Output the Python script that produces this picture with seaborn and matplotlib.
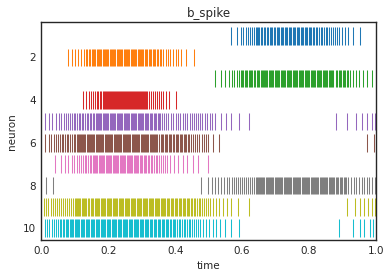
import matplotlib
matplotlib.use("Agg")
import matplotlib.pyplot as plt
import seaborn as sns

neuron_1 = [0.568, 0.586, 0.597, 0.604, 0.611, 0.618, 0.625, 0.630, 0.635, 0.640, 0.644, 0.648, 0.651, 0.655,
            0.659, 0.664, 0.668, 0.673, 0.677, 0.682, 0.686, 0.690, 0.695, 0.699, 0.703, 0.707, 0.711, 0.715,
            0.719, 0.723, 0.727, 0.731, 0.735, 0.739, 0.743, 0.747, 0.751, 0.755, 0.759, 0.763, 0.767, 0.771,
            0.775, 0.779, 0.783, 0.787, 0.791, 0.795, 0.799, 0.803, 0.807, 0.812, 0.816, 0.821, 0.825, 0.830,
            0.835, 0.840, 0.845, 0.850, 0.855, 0.860, 0.866, 0.871, 0.877, 0.883, 0.890, 0.899, 0.907, 0.917,
            0.932, 0.951]
neuron_2 = [0.0785, 0.092, 0.102, 0.111, 0.119, 0.128, 0.133, 0.138, 0.142, 0.146, 0.150, 0.154, 0.158, 0.161,
            0.165, 0.169, 0.172, 0.176, 0.179, 0.183, 0.186, 0.190, 0.193, 0.197, 0.200, 0.204, 0.207, 0.211,
            0.214, 0.218, 0.221, 0.225, 0.228, 0.232, 0.235, 0.239, 0.242, 0.246, 0.249, 0.253, 0.256, 0.260,
            0.263, 0.267, 0.270, 0.274, 0.277, 0.281, 0.284, 0.288, 0.291, 0.295, 0.298, 0.302, 0.305, 0.309,
            0.313, 0.317, 0.321, 0.325, 0.329, 0.333, 0.337, 0.341, 0.345, 0.349, 0.354, 0.359, 0.365, 0.372,
            0.378, 0.385, 0.394, 0.402, 0.409, 0.416, 0.431, 0.455]
neuron_3 = [0.520, 0.538, 0.550, 0.562, 0.570, 0.577, 0.586, 0.591, 0.596, 0.600, 0.604, 0.608, 0.612, 0.616,
            0.620, 0.624, 0.628, 0.631, 0.635, 0.639, 0.643, 0.647, 0.651, 0.655, 0.659,
            0.663, 0.666, 0.669, 0.672, 0.675, 0.681, 0.684, 0.687, 0.690, 0.693,
            0.699, 0.702, 0.705, 0.708, 0.711, 0.717, 0.720, 0.723, 0.726, 0.729,
            0.735, 0.738, 0.741, 0.744, 0.747, 0.753, 0.756, 0.759, 0.762, 0.765,
            0.771, 0.774, 0.777, 0.780, 0.783, 0.789, 0.792, 0.795, 0.798, 0.801,
            0.807, 0.810, 0.813, 0.816, 0.819, 0.825, 0.828, 0.831, 0.834, 0.837,
            0.843, 0.846, 0.849, 0.852, 0.855, 0.861, 0.864, 0.867, 0.870, 0.873,
            0.879, 0.884, 0.888, 0.892, 0.896, 0.900, 0.904, 0.908, 0.913, 0.917, 0.923, 0.932,
            0.941, 0.950, 0.960, 0.973, 0.987]
neuron_4 = [0.126, 0.134, 0.143, 0.149, 0.155, 0.160, 0.165, 0.169, 0.174, 0.179, 0.184, 0.188, 0.191, 0.194,
            0.197, 0.200, 0.203, 0.206, 0.209, 0.212, 0.215, 0.218, 0.221, 0.224, 0.227, 0.230, 0.233, 0.236,
            0.239, 0.242, 0.245, 0.248, 0.251, 0.254, 0.257, 0.260, 0.263, 0.266, 0.269, 0.272, 0.275, 0.278,
            0.281, 0.284, 0.287, 0.290, 0.293, 0.296, 0.299, 0.302, 0.305, 0.308, 0.311, 0.314, 0.317, 0.322,
            0.328, 0.335, 0.341, 0.347, 0.353, 0.359, 0.365, 0.372, 0.383, 0.401]
neuron_5 = [0.011, 0.023, 0.033, 0.043, 0.052, 0.060, 0.067, 0.073, 0.080, 0.086, 0.091, 0.097, 0.101, 0.107,
            0.113, 0.117, 0.121, 0.126, 0.131, 0.136, 0.140, 0.145, 0.149, 0.154, 0.158, 0.162, 0.165, 0.169,
            0.172, 0.176, 0.179, 0.183, 0.186, 0.190, 0.193, 0.197, 0.200, 0.204, 0.207, 0.211, 0.214, 0.218,
            0.221, 0.225, 0.228, 0.232, 0.235, 0.239, 0.242, 0.246, 0.249, 0.253, 0.256, 0.260, 0.263, 0.267,
            0.270, 0.274, 0.277, 0.281, 0.284, 0.288, 0.291, 0.295, 0.298, 0.302, 0.305, 0.309, 0.312, 0.316,
            0.320, 0.324, 0.328, 0.332, 0.336, 0.340, 0.344, 0.348, 0.352, 0.356, 0.360, 0.366, 0.373, 0.380,
            0.387, 0.394, 0.401, 0.408, 0.415, 0.422, 0.429, 0.436, 0.443, 0.449, 0.455, 0.461, 0.467, 0.474,
            0.481, 0.488, 0.496, 0.504, 0.511, 0.520, 0.536, 0.551, 0.568, 0.590, 0.620, 0.879, 0.913, 0.939,
            0.957, 0.972, 0.987, 0.998]
neuron_6 = [0.012, 0.022, 0.030, 0.038, 0.045, 0.051, 0.057, 0.062, 0.066, 0.072, 0.077, 0.081, 0.087, 0.092,
            0.097, 0.101, 0.106,
            0.110, 0.113, 0.116, 0.119, 0.122, 0.125, 0.128, 0.131,
            0.137, 0.140, 0.143, 0.146, 0.149, 0.152, 0.155, 0.158,
            0.164, 0.167, 0.170, 0.173, 0.176, 0.179, 0.182, 0.185,
            0.191, 0.194, 0.197, 0.200, 0.203, 0.206, 0.209, 0.212,
            0.218, 0.221, 0.224, 0.227, 0.230, 0.233, 0.236, 0.239,
            0.245, 0.248, 0.251, 0.254, 0.257, 0.260, 0.263, 0.266,
            0.272, 0.275, 0.278, 0.281, 0.284, 0.287, 0.290, 0.293,
            0.299, 0.302, 0.305, 0.308, 0.311, 0.314, 0.317, 0.320,
            0.326, 0.329, 0.332, 0.335, 0.338, 0.341, 0.344, 0.347,
            0.353, 0.357, 0.361, 0.365, 0.369, 0.373, 0.377, 0.381, 0.385, 0.389, 0.393, 0.397, 0.401, 0.405,
            0.409, 0.413, 0.417, 0.421, 0.425, 0.429, 0.433, 0.437, 0.441, 0.447, 0.453, 0.459, 0.465, 0.472,
            0.479, 0.486, 0.492, 0.499, 0.514, 0.532, 0.974, 0.995]
neuron_7 = [0.040, 0.059, 0.070, 0.081, 0.091, 0.099, 0.106, 0.113, 0.119, 0.125, 0.130, 0.135, 0.140, 0.145,
            0.149, 0.153, 0.157, 0.160, 0.164, 0.167, 0.171, 0.174, 0.178, 0.181, 0.185, 0.188, 0.192, 0.195,
            0.199, 0.202, 0.206, 0.209, 0.213, 0.216, 0.220, 0.223, 0.227, 0.230, 0.234, 0.237, 0.241, 0.244,
            0.248, 0.251, 0.255, 0.258, 0.262, 0.265, 0.269, 0.272, 0.276, 0.279, 0.283, 0.286, 0.290, 0.294,
            0.298, 0.302, 0.306, 0.310, 0.314, 0.318, 0.322, 0.327, 0.332, 0.337, 0.342, 0.347, 0.352, 0.358,
            0.364, 0.370, 0.377, 0.384, 0.397, 0.409, 0.422, 0.436, 0.452, 0.469, 0.498]
neuron_8 = [0.013, 0.034, 0.476, 0.498, 0.509, 0.519, 0.529, 0.538, 0.547, 0.555, 0.562, 0.569, 0.576, 0.582,
            0.588, 0.594, 0.600, 0.606, 0.612, 0.618, 0.624, 0.630, 0.636, 0.641,
            0.645, 0.648, 0.651, 0.654, 0.657, 0.660, 0.663, 0.666,
            0.672, 0.675, 0.678, 0.681, 0.684, 0.687, 0.690, 0.693,
            0.699, 0.702, 0.705, 0.708, 0.711, 0.714, 0.717, 0.720,
            0.726, 0.729, 0.732, 0.735, 0.738, 0.741, 0.744, 0.747,
            0.753, 0.756, 0.759, 0.762, 0.765, 0.768, 0.771, 0.774,
            0.780, 0.783, 0.786, 0.789, 0.792, 0.795, 0.798, 0.801,
            0.807, 0.810, 0.813, 0.816, 0.819, 0.822, 0.825, 0.828,
            0.834, 0.837, 0.840, 0.843, 0.846, 0.849, 0.852, 0.855,
            0.861, 0.864, 0.867, 0.870, 0.873, 0.876, 0.879, 0.882,
            0.887, 0.891, 0.895, 0.899, 0.903, 0.907, 0.911,
            0.917, 0.925, 0.933, 0.941, 0.949, 0.957, 0.964, 0.972, 0.980, 0.988, 0.996]
neuron_9 = [0.007, 0.014, 0.021, 0.028, 0.035, 0.041, 0.047, 0.053, 0.059, 0.065, 0.071, 0.077, 0.083, 0.089,
            0.095, 0.101,
            0.105, 0.108, 0.111, 0.114, 0.117, 0.123, 0.126, 0.129, 0.132, 0.135,
            0.141, 0.144, 0.147, 0.150, 0.153, 0.159, 0.162, 0.165, 0.168, 0.171,
            0.177, 0.180, 0.183, 0.186, 0.189, 0.195, 0.198, 0.201, 0.204, 0.207,
            0.213, 0.216, 0.219, 0.222, 0.225, 0.231, 0.234, 0.237, 0.240, 0.243,
            0.249, 0.252, 0.255, 0.258, 0.261, 0.267, 0.270, 0.273, 0.276, 0.279,
            0.285, 0.288, 0.291, 0.294, 0.297, 0.303, 0.306, 0.309, 0.312, 0.315,
            0.321, 0.324, 0.327, 0.330, 0.333, 0.339, 0.342, 0.345, 0.348, 0.351,
            0.357, 0.360, 0.363, 0.366, 0.369, 0.375, 0.378, 0.381, 0.387, 0.390, 0.393,
            0.399, 0.402, 0.405, 0.411, 0.414, 0.417, 0.423, 0.426, 0.429, 0.435, 0.438, 0.441,
            0.447, 0.451, 0.455, 0.460, 0.465, 0.470, 0.475, 0.480, 0.485, 0.491, 0.497, 0.505, 0.513, 0.522,
            0.532, 0.542, 0.554, 0.568, 0.589, 0.622, 0.914, 0.937, 0.953, 0.965, 0.977, 0.987, 0.996]
neuron_10 = [0.010, 0.017, 0.024, 0.031, 0.038, 0.045, 0.050, 0.055, 0.060, 0.065, 0.069, 0.073, 0.077, 0.081,
             0.085, 0.089, 0.092, 0.096, 0.100, 0.103, 0.107, 0.111, 0.114, 0.118, 0.122, 0.125, 0.129, 0.133,
             0.136, 0.140, 0.144, 0.147, 0.151, 0.155, 0.158, 0.162, 0.166, 0.169, 0.173, 0.177, 0.180, 0.184,
             0.188, 0.191, 0.195, 0.199, 0.202, 0.206, 0.210, 0.213, 0.217, 0.221, 0.224, 0.228, 0.232, 0.235,
             0.239, 0.243, 0.246, 0.250, 0.254, 0.257, 0.261, 0.265, 0.268, 0.272, 0.276, 0.279, 0.283, 0.287,
             0.290, 0.294, 0.298, 0.301, 0.305, 0.309, 0.312, 0.316, 0.320, 0.324, 0.328, 0.332, 0.336, 0.340,
             0.344, 0.348, 0.352, 0.356, 0.360, 0.364, 0.368, 0.372, 0.376, 0.380, 0.384, 0.388, 0.392, 0.396,
             0.400, 0.405, 0.410, 0.415, 0.420, 0.425, 0.430, 0.435, 0.440, 0.445, 0.450, 0.455, 0.461, 0.467,
             0.475, 0.483, 0.492, 0.502, 0.512, 0.522, 0.535, 0.550, 0.568, 0.592, 0.890, 0.930, 0.951, 0.965,
             0.981, 0.992]

spike_trains = [neuron_1, neuron_2, neuron_3, neuron_4, neuron_5,
                neuron_6, neuron_7, neuron_8, neuron_9, neuron_10]
neuron_ids = [1, 2, 3, 4, 5, 6, 7, 8, 9, 10]
ytick_values = [2, 4, 6, 8, 10]
xtick_values = [0.0, 0.2, 0.4, 0.6, 0.8, 1.0]
title = "b_spike"
xlabel = "time"
ylabel = "neuron"

sns.set_style("white")
plt.rcParams["font.family"] = ["DejaVu Sans"]
plt.rcParams["font.size"] = 7.5

palette = sns.color_palette("tab10", len(neuron_ids))

fig = plt.figure(figsize=(3.9, 2.78), dpi=100)
ax = fig.add_axes([41.3 / 390, 1 - 240 / 278, (376 - 41.3) / 390, (240 - 22.3) / 278])
ax.eventplot(spike_trains, lineoffsets=neuron_ids, linelengths=0.82,
             colors=palette, linewidths=0.75)
ax.set_xlim(0, 1)
ax.set_ylim(10.55, 0.36)
ax.set_xticks(xtick_values)
ax.set_xticklabels([f"{v:.1f}" for v in xtick_values])
ax.set_yticks(ytick_values)
ax.tick_params(axis="both", length=0, pad=4, labelsize=7.5, colors=".15")
for s in ax.spines.values():
    s.set_color(".15")
    s.set_linewidth(1.0)
ax.set_title(title, fontsize=8.5, color=".15", pad=4)
ax.set_xlabel(xlabel, fontsize=7.5, color=".15", labelpad=4)
ax.set_ylabel(ylabel, fontsize=7.5, color=".15", labelpad=4)
fig.savefig("out.png", dpi=100)
